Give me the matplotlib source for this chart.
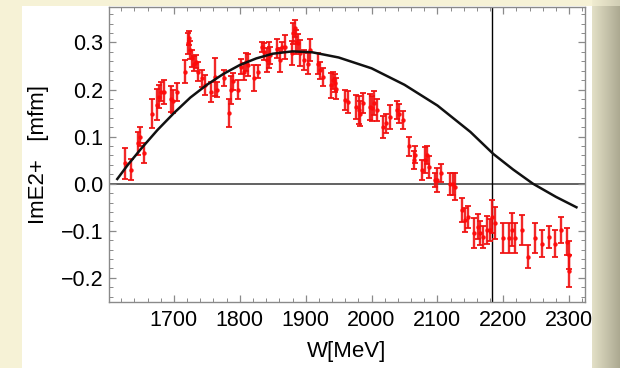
import numpy as np
import matplotlib
matplotlib.use("Agg")
import matplotlib.pyplot as plt
from matplotlib.ticker import MultipleLocator, FixedLocator

# ---- data ----
W = [1625, 1635, 1645, 1649, 1655, 1666, 1675, 1677, 1680, 1685, 1695, 1699, 1705,
     1717, 1722, 1723, 1725, 1728, 1731, 1734, 1737, 1743, 1747, 1756, 1762, 1765,
     1776, 1783, 1786, 1790, 1797, 1802, 1806, 1809, 1813, 1821, 1827, 1834, 1837,
     1841, 1844, 1846, 1856, 1861, 1864, 1869, 1879, 1881, 1884, 1886, 1888, 1892,
     1898, 1903, 1907, 1919, 1922, 1927, 1939, 1941, 1944, 1946, 1959, 1964, 1977,
     1981, 1983, 1987, 1997, 2000, 2003, 2009, 2018, 2022, 2028, 2038, 2042, 2048,
     2057, 2064, 2066, 2077, 2081, 2084, 2087, 2096, 2100, 2106, 2119, 2123, 2127,
     2137, 2142, 2146, 2156, 2161, 2165, 2169, 2175, 2180, 2183, 2187, 2199, 2209,
     2213, 2218, 2228, 2238, 2248, 2259, 2269, 2279, 2288, 2296, 2299, 2300]
ImE2 = [0.043, 0.030, 0.086, 0.100, 0.065, 0.149, 0.168, 0.185, 0.195, 0.195, 0.180, 0.175, 0.195,
        0.238, 0.298, 0.310, 0.284, 0.266, 0.255, 0.259, 0.238, 0.224, 0.209, 0.195, 0.227, 0.200,
        0.224, 0.150, 0.199, 0.217, 0.200, 0.248, 0.238, 0.259, 0.252, 0.224, 0.238, 0.290, 0.280,
        0.263, 0.273, 0.273, 0.287, 0.263, 0.290, 0.290, 0.277, 0.319, 0.330, 0.301, 0.298, 0.277,
        0.263, 0.255, 0.284, 0.255, 0.241, 0.227, 0.209, 0.220, 0.213, 0.202, 0.178, 0.174, 0.163,
        0.156, 0.149, 0.171, 0.163, 0.160, 0.171, 0.156, 0.121, 0.128, 0.142, 0.156, 0.149, 0.135,
        0.079, 0.050, 0.061, 0.029, 0.050, 0.061, 0.036, 0.008, 0.008, 0.022, 0.000, 0.000, -0.006,
        -0.056, -0.077, -0.070, -0.105, -0.091, -0.105, -0.113, -0.098, -0.098, -0.070, -0.084, -0.116, -0.116,
        -0.098, -0.116, -0.098, -0.155, -0.116, -0.127, -0.113, -0.127, -0.098, -0.123, -0.152, -0.185]
ERR = [0.032, 0.022, 0.024, 0.020, 0.021, 0.030, 0.033, 0.025, 0.020, 0.025, 0.027, 0.025, 0.019,
       0.025, 0.023, 0.015, 0.019, 0.018, 0.016, 0.014, 0.020, 0.018, 0.021, 0.021, 0.040, 0.016,
       0.017, 0.030, 0.030, 0.019, 0.021, 0.016, 0.018, 0.019, 0.023, 0.028, 0.014, 0.010, 0.018,
       0.025, 0.028, 0.018, 0.021, 0.025, 0.010, 0.025, 0.025, 0.023, 0.018, 0.025, 0.019, 0.028,
       0.021, 0.023, 0.023, 0.023, 0.018, 0.019, 0.026, 0.018, 0.019, 0.023, 0.021, 0.023, 0.025,
       0.030, 0.026, 0.021, 0.028, 0.026, 0.026, 0.023, 0.023, 0.021, 0.026, 0.019, 0.021, 0.019,
       0.021, 0.019, 0.018, 0.021, 0.028, 0.019, 0.023, 0.014, 0.025, 0.019, 0.023, 0.023, 0.028,
       0.025, 0.025, 0.023, 0.032, 0.027, 0.025, 0.023, 0.030, 0.023, 0.035, 0.034, 0.032, 0.032,
       0.035, 0.032, 0.032, 0.025, 0.032, 0.028, 0.023, 0.028, 0.028, 0.028, 0.030, 0.034]

# model curve, points
curve_W = [1614, 1630, 1650, 1675, 1700, 1725, 1750, 1775, 1800, 1825, 1850, 1880, 1910, 1950,
           2000, 2050, 2100, 2150, 2185, 2215, 2245, 2280, 2311]
curve_y = [0.010, 0.040, 0.074, 0.114, 0.150, 0.183, 0.210, 0.233, 0.252, 0.266, 0.276, 0.281,
           0.279, 0.268, 0.245, 0.210, 0.166, 0.110, 0.063, 0.030, 0.000, -0.028, -0.050]

vline_W = 2183

xticks = [1700, 1800, 1900, 2000, 2100, 2200, 2300]
yticks = [-0.2, -0.1, 0.0, 0.1, 0.2, 0.3]
ytick_labels = ["\u22120.2", "\u22120.1", "0.0", "0.1", "0.2", "0.3"]

# ---- figure ----
FW, FH = 620, 368
fig = plt.figure(figsize=(FW / 100, FH / 100), dpi=100)

# background (slide-like frame)
bg = fig.add_axes([0, 0, 1, 1], zorder=-10)
img = np.ones((FH, FW, 3))
img[:, :] = np.array([246, 242, 214]) / 255.0
img[6:, 22:592] = 1.0
for i, x in enumerate(range(592, FW)):
    t = i / (FW - 592)
    col = np.array([226, 223, 198]) * (1 - t) + np.array([170, 167, 144]) * t
    img[6:, x] = col / 255.0
    img[:6, x] = (np.array([240, 236, 208]) * (1 - t) + np.array([208, 205, 180]) * t) / 255.0
bg.imshow(img, aspect="auto", interpolation="nearest", extent=[0, FW, FH, 0])
bg.set_axis_off()

ax = fig.add_axes([108.7 / FW, 66.3 / FH, (585 - 108.7) / FW, (301.7 - 6.7) / FH])
ax.set_facecolor("white")

ax.set_xlim(1601, 2324)
ax.set_ylim(-0.2505, 0.3758)

ax.axhline(0, color="#555555", lw=1.3, zorder=1)
ax.axvline(vline_W, color="black", lw=1.0, zorder=1)

ax.errorbar(W, ImE2, yerr=ERR, fmt="o", ms=2.2, color="#ff0a0a", ecolor="#f01010",
            elinewidth=1.7, capsize=2.5, capthick=1.4, alpha=0.9, zorder=2)

ax.plot(curve_W, curve_y, color="#111111", lw=1.8, zorder=3)

ax.xaxis.set_major_locator(FixedLocator(xticks))
ax.xaxis.set_minor_locator(MultipleLocator(20))
ax.yaxis.set_major_locator(FixedLocator(yticks))
ax.yaxis.set_minor_locator(MultipleLocator(0.02))
ax.set_yticklabels(ytick_labels)

for s in ax.spines.values():
    s.set_color("#8a8a8a")
    s.set_linewidth(1.0)

FONT = ["Liberation Sans", "DejaVu Sans"]
ax.tick_params(which="both", direction="in", top=True, right=True, color="#8a8a8a")
ax.tick_params(which="major", length=5, width=0.9, labelsize=15.5, labelcolor="black")
ax.tick_params(which="minor", length=2.8, width=0.7)
ax.tick_params(axis="x", which="major", pad=6)
ax.tick_params(axis="y", which="major", pad=4)

for lab in ax.get_xticklabels() + ax.get_yticklabels():
    lab.set_family(FONT)

ax.set_xlabel("W[MeV]", fontsize=16, family=FONT, labelpad=7)
ax.set_ylabel("ImE2+   [mfm]", fontsize=16, family=FONT, labelpad=8)

fig.savefig("out.png", dpi=100)
